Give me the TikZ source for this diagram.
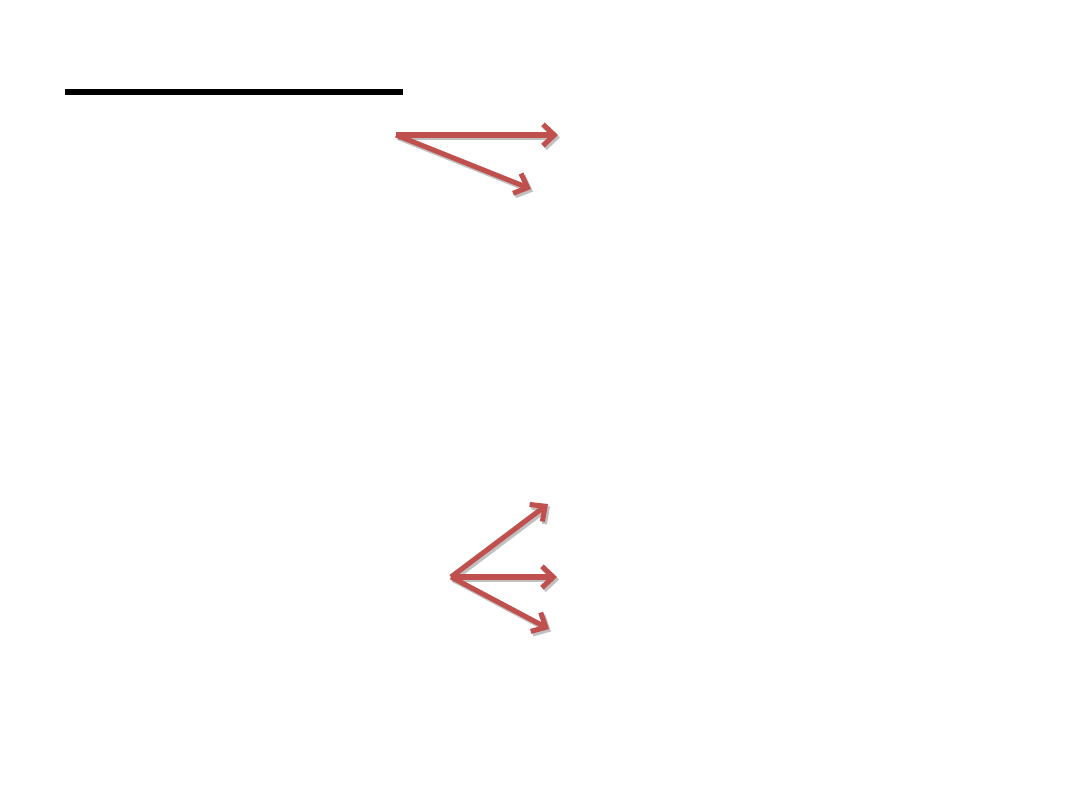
\documentclass[tikz,border=0pt]{standalone}
\usepackage{amsmath}
\usepackage{tikz}
\usetikzlibrary{arrows.meta}

\begin{document}
\begin{tikzpicture}[x=0.75pt,y=0.75pt,yscale=-1,xscale=1,
    redarrow/.style={color={rgb, 255:red, 192; green, 80; blue, 77 },draw opacity=1,line width=3.8pt,-{Straight Barb[length=8.5pt,width=16pt]}},
    arrowshadow/.style={color={rgb, 255:red, 130; green, 130; blue, 130 },draw opacity=0.5,line width=3.8pt,-{Straight Barb[length=8.5pt,width=16pt]}}]
        \useasboundingbox (0,0) rectangle (1080,810);

        %Straight Lines [id:top rule]
        \draw [line width=4.6pt]    (65,92) -- (403,92) ;

        %Coordinates of the upper pair
        \coordinate (upO) at (396,135);
        \coordinate (upA) at (558,135);
        \coordinate (upB) at (531,189);
        %Coordinates of the lower fan
        \coordinate (loO) at (451,577);
        \coordinate (loA) at (548,504);
        \coordinate (loB) at (557,577);
        \coordinate (loC) at (549,629);

        %Shadows
        \foreach \o/\t in {upO/upA,upO/upB,loO/loA,loO/loB,loO/loC}
            \draw [arrowshadow] ([shift={(2,2.5)}]\o) -- ([shift={(2,2.5)}]\t) ;

        %Arrows
        \foreach \o/\t in {upO/upA,upO/upB,loO/loA,loO/loB,loO/loC}
            \draw [redarrow] (\o) -- (\t) ;

    \end{tikzpicture}
\end{document}
